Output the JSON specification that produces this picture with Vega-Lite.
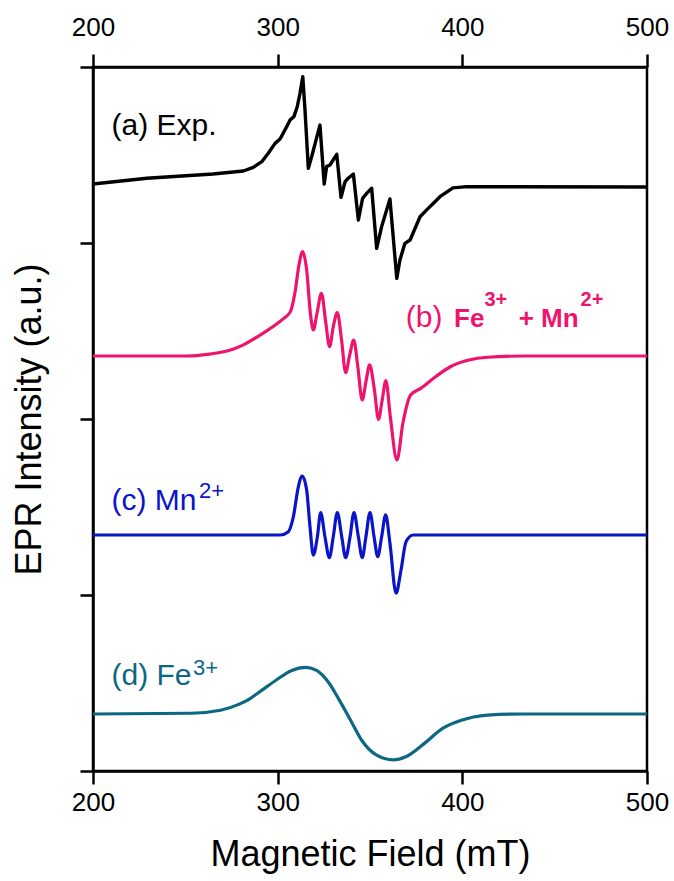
{
  "$schema": "https://vega.github.io/schema/vega-lite/v6.json",
  "width": 554,
  "height": 704,
  "autosize": {"type": "none"},
  "padding": {"left": 93, "top": 67, "right": 27, "bottom": 110},
  "background": "white",
  "config": {
    "font": "Liberation Sans",
    "view": {"stroke": "#000000", "strokeWidth": 2.5},
    "axis": {
      "domainColor": "#000000", "domainWidth": 2.5,
      "tickColor": "#000000", "tickWidth": 2.5, "tickSize": 13,
      "labelFont": "Liberation Sans", "labelFontSize": 26, "labelColor": "#000000",
      "titleFont": "Liberation Sans", "titleFontSize": 36, "titleFontWeight": "normal", "titleColor": "#000000",
      "grid": false, "labelPadding": 5, "labelFlush": false
    }
  },
  "datasets": {
    "exp": [
      {"s": "a", "B": 200, "I": 33.35},
      {"s": "a", "B": 229.1, "I": 33.68},
      {"s": "a", "B": 265.0, "I": 33.92},
      {"s": "a", "B": 281.4, "I": 34.09},
      {"s": "a", "B": 286.8, "I": 34.30},
      {"s": "a", "B": 291.4, "I": 34.62},
      {"s": "a", "B": 294.9, "I": 35.10},
      {"s": "a", "B": 298.6, "I": 35.66},
      {"s": "a", "B": 301.3, "I": 35.91},
      {"s": "a", "B": 304.9, "I": 36.61},
      {"s": "a", "B": 306.7, "I": 36.99},
      {"s": "a", "B": 308.8, "I": 37.18},
      {"s": "a", "B": 310.6, "I": 37.74},
      {"s": "a", "B": 312.1, "I": 38.51},
      {"s": "a", "B": 313.6, "I": 39.45},
      {"s": "a", "B": 314.8, "I": 37.56},
      {"s": "a", "B": 316.6, "I": 34.24},
      {"s": "a", "B": 318.4, "I": 34.90},
      {"s": "a", "B": 322.9, "I": 36.70},
      {"s": "a", "B": 325.2, "I": 33.35},
      {"s": "a", "B": 326.5, "I": 34.34},
      {"s": "a", "B": 328.3, "I": 34.43},
      {"s": "a", "B": 332.0, "I": 35.04},
      {"s": "a", "B": 334.3, "I": 32.60},
      {"s": "a", "B": 336.5, "I": 33.48},
      {"s": "a", "B": 338.2, "I": 33.68},
      {"s": "a", "B": 341.0, "I": 33.92},
      {"s": "a", "B": 343.7, "I": 31.31},
      {"s": "a", "B": 346.0, "I": 32.54},
      {"s": "a", "B": 348.2, "I": 32.82},
      {"s": "a", "B": 350.9, "I": 33.11},
      {"s": "a", "B": 353.6, "I": 29.70},
      {"s": "a", "B": 356.3, "I": 30.93},
      {"s": "a", "B": 360.8, "I": 32.50},
      {"s": "a", "B": 364.5, "I": 27.99},
      {"s": "a", "B": 366.2, "I": 29.03},
      {"s": "a", "B": 368.9, "I": 29.98},
      {"s": "a", "B": 371.7, "I": 30.17},
      {"s": "a", "B": 377.1, "I": 31.49},
      {"s": "a", "B": 380.7, "I": 31.88},
      {"s": "a", "B": 387.9, "I": 32.63},
      {"s": "a", "B": 394.9, "I": 33.13},
      {"s": "a", "B": 402.4, "I": 33.20},
      {"s": "a", "B": 500, "I": 33.18}
    ],
    "sim": [
      {"s": "b", "B": 200, "I": 23.58},
      {"s": "b", "B": 251.1, "I": 23.58},
      {"s": "b", "B": 263.1, "I": 23.69},
      {"s": "b", "B": 273.1, "I": 23.88},
      {"s": "b", "B": 281.2, "I": 24.20},
      {"s": "b", "B": 289.2, "I": 24.68},
      {"s": "b", "B": 297.3, "I": 25.24},
      {"s": "b", "B": 303.3, "I": 25.72},
      {"s": "b", "B": 306.9, "I": 26.10},
      {"s": "b", "B": 309.3, "I": 27.14},
      {"s": "b", "B": 311.7, "I": 28.85},
      {"s": "b", "B": 313.5, "I": 29.51},
      {"s": "b", "B": 315.7, "I": 28.47},
      {"s": "b", "B": 317.7, "I": 26.01},
      {"s": "b", "B": 319.3, "I": 25.06},
      {"s": "b", "B": 321.3, "I": 26.01},
      {"s": "b", "B": 323.7, "I": 27.14},
      {"s": "b", "B": 326.1, "I": 25.44},
      {"s": "b", "B": 328.1, "I": 24.11},
      {"s": "b", "B": 330.1, "I": 25.24},
      {"s": "b", "B": 332.3, "I": 26.04},
      {"s": "b", "B": 334.6, "I": 24.49},
      {"s": "b", "B": 336.8, "I": 22.63},
      {"s": "b", "B": 339.0, "I": 23.64},
      {"s": "b", "B": 341.2, "I": 24.49},
      {"s": "b", "B": 343.4, "I": 22.97},
      {"s": "b", "B": 345.8, "I": 21.08},
      {"s": "b", "B": 347.8, "I": 22.12},
      {"s": "b", "B": 349.8, "I": 23.07},
      {"s": "b", "B": 352.4, "I": 21.65},
      {"s": "b", "B": 354.6, "I": 19.98},
      {"s": "b", "B": 356.6, "I": 21.08},
      {"s": "b", "B": 358.6, "I": 22.18},
      {"s": "b", "B": 361.0, "I": 20.13},
      {"s": "b", "B": 364.6, "I": 17.67},
      {"s": "b", "B": 367.8, "I": 19.76},
      {"s": "b", "B": 372.0, "I": 21.36},
      {"s": "b", "B": 377.5, "I": 21.74},
      {"s": "b", "B": 385.5, "I": 22.40},
      {"s": "b", "B": 393.5, "I": 22.97},
      {"s": "b", "B": 403.5, "I": 23.35},
      {"s": "b", "B": 413.6, "I": 23.51},
      {"s": "b", "B": 433.6, "I": 23.58},
      {"s": "b", "B": 500, "I": 23.58},
      {"s": "c", "B": 200, "I": 13.41},
      {"s": "c", "B": 301.3, "I": 13.41},
      {"s": "c", "B": 305.8, "I": 13.60},
      {"s": "c", "B": 308.5, "I": 14.45},
      {"s": "c", "B": 311.2, "I": 16.15},
      {"s": "c", "B": 313.3, "I": 16.76},
      {"s": "c", "B": 315.7, "I": 15.97},
      {"s": "c", "B": 317.5, "I": 13.88},
      {"s": "c", "B": 319.3, "I": 12.27},
      {"s": "c", "B": 321.5, "I": 13.31},
      {"s": "c", "B": 323.3, "I": 14.68},
      {"s": "c", "B": 325.6, "I": 13.31},
      {"s": "c", "B": 328.0, "I": 12.12},
      {"s": "c", "B": 330.1, "I": 13.31},
      {"s": "c", "B": 332.3, "I": 14.68},
      {"s": "c", "B": 334.7, "I": 13.31},
      {"s": "c", "B": 336.8, "I": 12.12},
      {"s": "c", "B": 339.2, "I": 13.31},
      {"s": "c", "B": 341.3, "I": 14.68},
      {"s": "c", "B": 343.7, "I": 13.31},
      {"s": "c", "B": 345.8, "I": 12.12},
      {"s": "c", "B": 347.8, "I": 13.31},
      {"s": "c", "B": 350.0, "I": 14.68},
      {"s": "c", "B": 352.2, "I": 13.31},
      {"s": "c", "B": 354.2, "I": 12.18},
      {"s": "c", "B": 356.3, "I": 13.31},
      {"s": "c", "B": 358.5, "I": 14.55},
      {"s": "c", "B": 360.8, "I": 12.94},
      {"s": "c", "B": 364.1, "I": 10.10},
      {"s": "c", "B": 366.8, "I": 11.42},
      {"s": "c", "B": 369.5, "I": 13.03},
      {"s": "c", "B": 373.4, "I": 13.41},
      {"s": "c", "B": 409.6, "I": 13.41},
      {"s": "c", "B": 500, "I": 13.41},
      {"s": "d", "B": 200, "I": 3.24},
      {"s": "d", "B": 253.1, "I": 3.28},
      {"s": "d", "B": 269.1, "I": 3.45},
      {"s": "d", "B": 279.2, "I": 3.80},
      {"s": "d", "B": 284.2, "I": 4.06},
      {"s": "d", "B": 289.2, "I": 4.42},
      {"s": "d", "B": 299.3, "I": 5.17},
      {"s": "d", "B": 307.3, "I": 5.70},
      {"s": "d", "B": 315.3, "I": 5.89},
      {"s": "d", "B": 321.3, "I": 5.70},
      {"s": "d", "B": 327.3, "I": 5.07},
      {"s": "d", "B": 333.4, "I": 4.03},
      {"s": "d", "B": 339.4, "I": 2.90},
      {"s": "d", "B": 345.4, "I": 1.76},
      {"s": "d", "B": 353.4, "I": 0.91},
      {"s": "d", "B": 362.5, "I": 0.63},
      {"s": "d", "B": 369.4, "I": 0.81},
      {"s": "d", "B": 379.5, "I": 1.57},
      {"s": "d", "B": 389.5, "I": 2.43},
      {"s": "d", "B": 399.5, "I": 2.88},
      {"s": "d", "B": 406.0, "I": 3.07},
      {"s": "d", "B": 413.6, "I": 3.18},
      {"s": "d", "B": 433.6, "I": 3.24},
      {"s": "d", "B": 500, "I": 3.24}
    ],
    "mainLabels": [
      {"s": "a", "t": "(a) Exp.", "B": 210, "I": 36.14},
      {"s": "b", "t": "(b)", "B": 369.4, "I": 25.21},
      {"s": "c", "t": "(c) Mn", "B": 210, "I": 14.83},
      {"s": "d", "t": "(d) Fe", "B": 210, "I": 4.89}
    ],
    "supLabels": [
      {"s": "c", "t": "2+", "B": 257.4, "I": 15.49},
      {"s": "d", "t": "3+", "B": 254.2, "I": 5.45}
    ],
    "boldLabels": [
      {"s": "b", "t": "Fe", "B": 395.5, "I": 25.21},
      {"s": "b", "t": "+ Mn", "B": 430.5, "I": 25.21}
    ],
    "boldSupLabels": [
      {"s": "b", "t": "3+", "B": 412.0, "I": 26.40},
      {"s": "b", "t": "2+", "B": 464.0, "I": 26.40}
    ]
  },
  "resolve": {"axis": {"x": "independent", "y": "independent"}},
  "layer": [
    {
      "data": {"name": "exp"},
      "mark": {"type": "line", "strokeWidth": 3.4, "interpolate": "linear", "strokeJoin": "round"},
      "encoding": {
        "x": {"field": "B", "type": "quantitative", "scale": {"domain": [200, 500], "nice": false, "zero": false},
              "axis": {"orient": "bottom", "values": [200, 300, 400, 500], "title": "Magnetic Field (mT)", "titlePadding": 22}},
        "y": {"field": "I", "type": "quantitative", "scale": {"domain": [0, 40], "nice": false, "zero": false},
              "axis": {"orient": "left", "values": [0, 10, 20, 30, 40], "labels": false, "title": "EPR Intensity (a.u.)", "titlePadding": 30}},
        "color": {"field": "s", "type": "nominal", "scale": {"domain": ["a", "b", "c", "d"], "range": ["#000000", "#EE146E", "#0A14C8", "#0C6882"]}, "legend": null}
      }
    },
    {
      "data": {"name": "sim"},
      "mark": {"type": "line", "strokeWidth": 3.2, "interpolate": "monotone"},
      "encoding": {
        "x": {"field": "B", "type": "quantitative", "axis": {"orient": "top", "values": [200, 300, 400, 500], "title": null, "labelPadding": 14}},
        "y": {"field": "I", "type": "quantitative", "axis": null},
        "color": {"field": "s", "type": "nominal", "legend": null}
      }
    },
    {
      "data": {"name": "mainLabels"},
      "mark": {"type": "text", "align": "left", "baseline": "alphabetic", "fontSize": 30, "font": "Liberation Sans"},
      "encoding": {
        "x": {"field": "B", "type": "quantitative", "axis": null},
        "y": {"field": "I", "type": "quantitative", "axis": null},
        "text": {"field": "t"},
        "color": {"field": "s", "type": "nominal", "legend": null}
      }
    },
    {
      "data": {"name": "supLabels"},
      "mark": {"type": "text", "align": "left", "baseline": "alphabetic", "fontSize": 22, "font": "Liberation Sans"},
      "encoding": {
        "x": {"field": "B", "type": "quantitative", "axis": null},
        "y": {"field": "I", "type": "quantitative", "axis": null},
        "text": {"field": "t"},
        "color": {"field": "s", "type": "nominal", "legend": null}
      }
    },
    {
      "data": {"name": "boldLabels"},
      "mark": {"type": "text", "align": "left", "baseline": "alphabetic", "fontSize": 26, "fontWeight": "bold", "font": "Liberation Sans"},
      "encoding": {
        "x": {"field": "B", "type": "quantitative", "axis": null},
        "y": {"field": "I", "type": "quantitative", "axis": null},
        "text": {"field": "t"},
        "color": {"field": "s", "type": "nominal", "legend": null}
      }
    },
    {
      "data": {"name": "boldSupLabels"},
      "mark": {"type": "text", "align": "left", "baseline": "alphabetic", "fontSize": 20, "fontWeight": "bold", "font": "Liberation Sans"},
      "encoding": {
        "x": {"field": "B", "type": "quantitative", "axis": null},
        "y": {"field": "I", "type": "quantitative", "axis": null},
        "text": {"field": "t"},
        "color": {"field": "s", "type": "nominal", "legend": null}
      }
    }
  ]
}
